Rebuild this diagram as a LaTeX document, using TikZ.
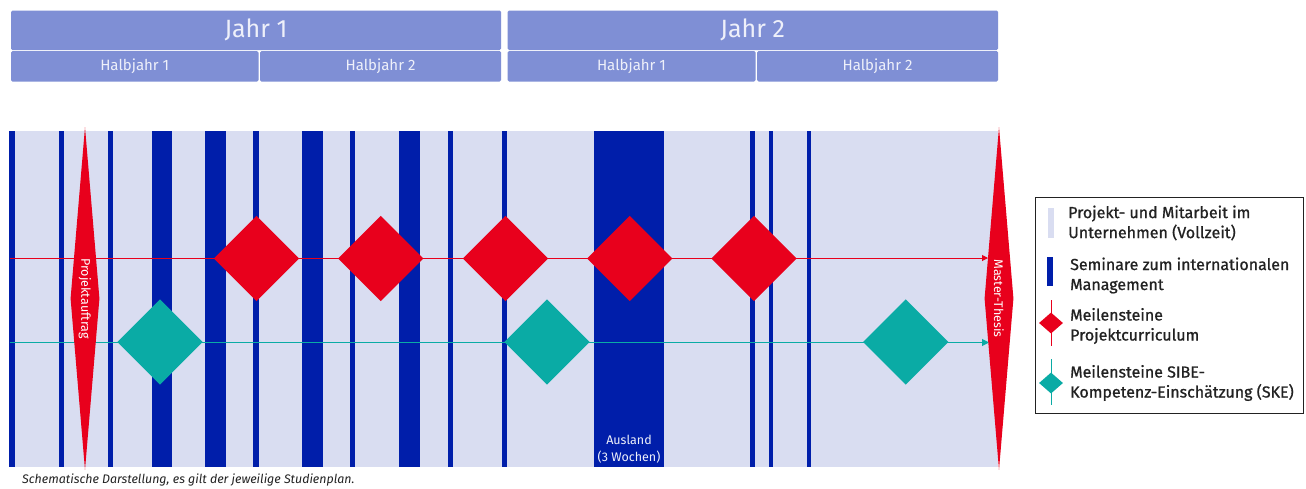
\documentclass[tikz,border=0pt]{standalone}
\usepackage{fontspec}
\setmainfont{Fira Sans}
\newfontfamily\legfont[FakeBold=0.9]{Fira Sans}
\usetikzlibrary{shapes.geometric,arrows.meta}
\definecolor{hdr}{RGB}{127,143,213}
\definecolor{hdrtxt}{RGB}{238,240,250}
\definecolor{band}{RGB}{217,221,241}
\definecolor{navy}{RGB}{0,30,170}
\definecolor{mred}{RGB}{232,0,28}
\definecolor{mteal}{RGB}{10,171,165}
\definecolor{ltxt}{RGB}{34,34,34}
\begin{document}
\begin{tikzpicture}[x=1pt,y=-1pt,
  hdrbox/.style={fill=hdr,draw=none,rounded corners=1.5pt,inner sep=0pt,text=hdrtxt},
  yearbox/.style={hdrbox,minimum height=39.5pt,font=\fontsize{25}{30}\selectfont},
  halfbox/.style={hdrbox,minimum height=30.5pt,font=\fontsize{15}{18}\selectfont},
  msred/.style={shape=diamond,fill=mred,draw=none,inner sep=0pt,minimum width=85.5pt,minimum height=85.5pt},
  msteal/.style={msred,fill=mteal},
  bigms/.style={shape=diamond,fill=mred,draw=none,inner sep=0pt,minimum width=29pt,minimum height=343pt},
  vlabel/.style={rotate=-90,text=white,font=\fontsize{12.5}{14}\selectfont,inner sep=0pt},
  redline/.style={draw=mred,line width=1pt,-{Triangle[length=6pt,width=6pt]}},
  tealline/.style={draw=mteal,line width=1pt,-{Triangle[length=7pt,width=7pt]}},
  legtext/.style={anchor=west,align=left,text=ltxt,inner sep=0pt,font=\legfont\fontsize{16}{20}\selectfont},
  legred/.style={shape=diamond,fill=mred,inner sep=0pt,minimum width=24pt,minimum height=21pt},
  legteal/.style={legred,fill=mteal}
]
\useasboundingbox (0,0) rectangle (1306,488);
\fill[white] (0,0) rectangle (1306,488);

% header
\node[yearbox,minimum width=490pt] (j1) at (256,30.25) {Jahr 1};
\node[yearbox,minimum width=490.5pt] (j2) at (752.75,30.25) {Jahr 2};
\node[halfbox,minimum width=247.5pt] (h11) at (134.75,66.25) {Halbjahr 1};
\node[halfbox,minimum width=241pt] (h12) at (380.5,66.25) {Halbjahr 2};
\node[halfbox,minimum width=248pt] (h21) at (631.5,66.25) {Halbjahr 1};
\node[halfbox,minimum width=241pt] (h22) at (877.5,66.25) {Halbjahr 2};

% band
\node[fill=band,draw=none,inner sep=0pt,minimum width=988.5pt,minimum height=336pt,anchor=north west] (band) at (9.5,131) {};

% seminar bars
\foreach \cx/\w in {12.3/6,61.5/5.5,110.5/5.5,162/20.5,215.5/20.5,256/5.5,312.5/20.5,352.5/5.5,409.5/20.5,450.5/5.5,504.5/5.5,752.5/5.5,771/4.5,809/4.5}{
  \fill[navy] (\cx-\w/2,131) rectangle (\cx+\w/2,467);
}
\fill[navy] (594,131) rectangle (664,467);
\node[align=center,text=hdrtxt,font=\fontsize{12.5}{17}\selectfont,inner sep=0pt] (ausland) at (629,449.5) {Ausland\\(3 Wochen)};

% milestone lines
\coordinate (rs) at (9.5,258);
\coordinate (re) at (988,258);
\coordinate (ts) at (9.5,342.5);
\coordinate (te) at (989,342.5);
\draw[redline] (rs) -- (re);
\draw[tealline] (ts) -- (te);

% red milestones
\node[msred] (r1) at (256.5,258.5) {};
\node[msred] (r2) at (380.7,258.5) {};
\node[msred] (r3) at (505.5,258.5) {};
\node[msred] (r4) at (629.7,258.5) {};
\node[msred] (r5) at (754,258.5) {};
% teal milestones
\node[msteal] (t1) at (160,342) {};
\node[msteal] (t2) at (547,342) {};
\node[msteal] (t3) at (905.7,342) {};

% big milestones
\node[bigms] (pa) at (85,298.5) {};
\node[vlabel] (palab) at (pa.center) {Projektauftrag};
\node[bigms] (mt) at (999,298.5) {};
\node[vlabel] (mtlab) at (mt.center) {Master-Thesis};

% legend
\node[draw=ltxt,line width=1pt,fill=white,inner sep=0pt,minimum width=268pt,minimum height=216pt,anchor=north west] (legend) at (1035,197) {};
\fill[band] (1048,208) rectangle (1054,238);
\node[legtext] (lt1) at (1068,223) {Projekt- und Mitarbeit im\\Unternehmen (Vollzeit)};
\fill[navy] (1047,257) rectangle (1053,286);
\node[legtext] (lt2) at (1070,275.5) {Seminare zum internationalen\\Management};
\coordinate (lr1) at (1051,300);
\coordinate (lr2) at (1051,346);
\draw[mred,line width=1pt] (lr1) -- (lr2);
\node[legred] (lrd) at (1051,323) {};
\node[legtext] (lt3) at (1070,326) {Meilensteine\\Projektcurriculum};
\coordinate (lt1a) at (1051,359);
\coordinate (lt1b) at (1051,405);
\draw[mteal,line width=1pt] (lt1a) -- (lt1b);
\node[legteal] (ltd) at (1051,383) {};
\node[legtext] (lt4) at (1070,383) {Meilensteine SIBE-\\Kompetenz-Einschätzung (SKE)};

% footer
\node[anchor=west,inner sep=0pt,text=ltxt,font=\itshape\fontsize{12.4}{14}\selectfont] (foot) at (22,480) {Schematische Darstellung, es gilt der jeweilige Studienplan.};
\end{tikzpicture}
\end{document}
